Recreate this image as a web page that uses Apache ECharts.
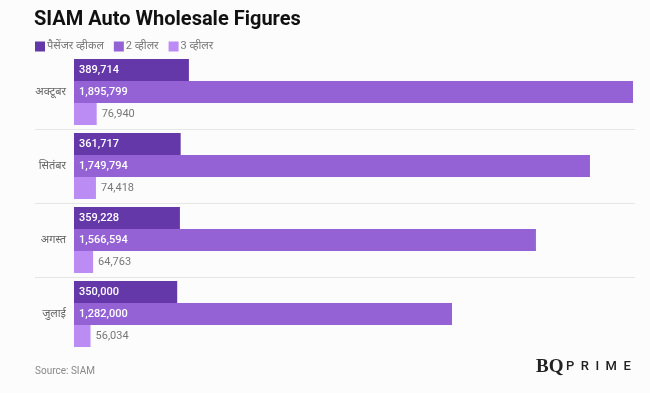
<!DOCTYPE html>
<html>
<head>
<meta charset="utf-8">
<script src="https://cdn.jsdelivr.net/npm/echarts@6/dist/echarts.min.js"></script>
<style>html,body{margin:0;padding:0;background:#fcfcfc;}#c{width:650px;height:393px;}</style>
</head>
<body>
<div id="c"></div>
<script>
const categories = ['अक्टूबर', 'सितंबर', 'अगस्त', 'जुलाई'];
const seriesNames = ['पैसेंजर व्हीकल', '2 व्हीलर', '3 व्हीलर'];
const passengerVehicle = [389714, 361717, 359228, 350000];
const twoWheeler = [1895799, 1749794, 1566594, 1282000];
const threeWheeler = [76940, 74418, 64763, 56034];
const colors = ['#6438a8', '#9462d4', '#bb8cf4'];

const chart = echarts.init(document.getElementById('c'), null, {renderer: 'canvas'});
const fmt = p => p.value.toLocaleString('en-US');
const font = 'Roboto, "Noto Sans", sans-serif';
chart.setOption({
  backgroundColor: '#fcfcfc',
  animation: false,
  color: colors,
  title: {
    text: 'SIAM Auto Wholesale Figures',
    left: 29, top: 5,
    textStyle: {fontSize: 20, fontWeight: 'bold', color: '#111', fontFamily: 'Roboto, sans-serif'}
  },
  legend: {
    left: 30, top: 36,
    itemWidth: 10, itemHeight: 10, itemGap: 10,
    icon: 'rect',
    textStyle: {color: '#777', fontSize: 11, fontFamily: font, padding: [0, 0, 0, -3]},
    data: seriesNames
  },
  grid: [
    {left: 74, right: 17, top: 55, bottom: 42},
    {left: 35, right: 15, top: 55, bottom: 42}
  ],
  xAxis: [
    {type: 'value', min: 0, max: 1895799, show: false, gridIndex: 0},
    {type: 'value', min: 0, max: 1, show: false, gridIndex: 1}
  ],
  yAxis: [
    {
      type: 'category', data: categories, inverse: true, gridIndex: 0,
      axisLine: {show: false}, axisTick: {show: false}, splitLine: {show: false},
      axisLabel: {color: '#666', fontSize: 11, margin: 8, fontFamily: font}
    },
    {
      type: 'value', min: 0, max: categories.length, interval: 1, inverse: true, gridIndex: 1,
      axisLine: {show: false}, axisTick: {show: false}, axisLabel: {show: false},
      splitLine: {show: true, showMinLine: false, showMaxLine: false, lineStyle: {color: '#e6e6e6', width: 1}}
    }
  ],
  series: [
    {
      name: seriesNames[0], type: 'bar', data: passengerVehicle, barWidth: 22, barGap: '0%',
      label: {show: true, position: 'insideLeft', distance: 5, color: '#fff', fontSize: 11, fontWeight: 500, fontFamily: font, formatter: fmt}
    },
    {
      name: seriesNames[1], type: 'bar', data: twoWheeler, barWidth: 22, barGap: '0%',
      label: {show: true, position: 'insideLeft', distance: 5, color: '#fff', fontSize: 11, fontWeight: 500, fontFamily: font, formatter: fmt}
    },
    {
      name: seriesNames[2], type: 'bar', data: threeWheeler, barWidth: 22, barGap: '0%',
      label: {show: true, position: 'right', distance: 5, color: '#777', fontSize: 11, fontFamily: font, formatter: fmt}
    }
  ],
  graphic: [
    {type: 'text', left: 35, top: 366, style: {text: 'Source: SIAM', fill: '#888', fontSize: 10, fontFamily: font}},
    {type: 'text', left: 536, top: 358, style: {text: 'BQ', fill: '#222', fontSize: 19, fontFamily: '"Liberation Serif", serif', fontWeight: 'bold'}},
    {type: 'text', left: 566, top: 360, style: {text: 'P  R  I  M  E', fill: '#222', fontSize: 13, fontFamily: font, fontWeight: 500}}
  ]
});
</script>
</body>
</html>
